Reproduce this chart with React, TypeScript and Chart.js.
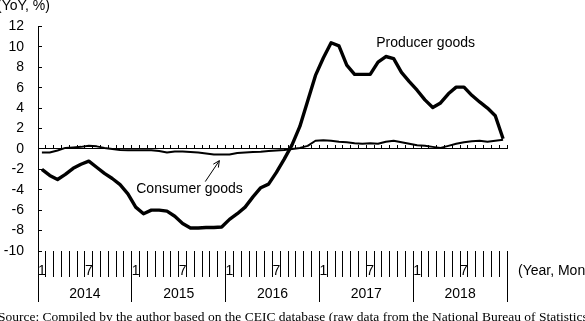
import React, { useEffect, useRef } from "react";
import { Chart, registerables } from "chart.js";

Chart.register(...registerables);

// Year groups shown under the month ticks
const years = ["2014", "2015", "2016", "2017", "2018"];
// Month tick labels inside each year (only January and July are labelled)
const monthTickLabels = ["1", "", "", "", "", "", "7", "", "", "", "", ""];

// Monthly categories, Jan 2014 – Dec 2018
const months: string[] = [];
years.forEach((yr) => monthTickLabels.forEach((_, m) => months.push(`${yr}-${m + 1}`)));

// PPI, producer goods (YoY, %)
const producerGoods = [
  -2.0, -2.6, -3.0, -2.5, -1.9, -1.5, -1.2, -1.8, -2.4, -2.9, -3.5, -4.4,
  -5.7, -6.35, -6.0, -6.0, -6.1, -6.6, -7.3, -7.75, -7.75, -7.7, -7.7, -7.65,
  -6.9, -6.35, -5.7, -4.7, -3.8, -3.45, -2.3, -1.0, 0.4, 2.2, 4.7, 7.2,
  8.9, 10.4, 10.1, 8.2, 7.3, 7.3, 7.3, 8.5, 9.05, 8.85, 7.5, 6.6,
  5.75, 4.8, 4.05, 4.5, 5.4, 6.05, 6.05, 5.25, 4.6, 4.0, 3.25, 1.0,
];

// PPI, consumer goods (YoY, %)
const consumerGoods = [
  -0.35, -0.35, -0.15, 0.1, 0.15, 0.2, 0.3, 0.25, 0.1, 0.0, -0.1, -0.12,
  -0.12, -0.12, -0.12, -0.2, -0.35, -0.25, -0.25, -0.3, -0.35, -0.45, -0.55, -0.55,
  -0.55, -0.4, -0.35, -0.3, -0.27, -0.2, -0.15, -0.1, 0.0, 0.1, 0.3, 0.8,
  0.85, 0.8, 0.7, 0.65, 0.55, 0.5, 0.55, 0.5, 0.7, 0.8, 0.65, 0.5,
  0.35, 0.3, 0.2, 0.1, 0.3, 0.5, 0.65, 0.75, 0.8, 0.7, 0.8, 0.9,
];

const SANS = '"Liberation Sans", Arial, sans-serif';
const SERIF = '"Liberation Serif", "Times New Roman", serif';

// Series name labels and the pointer arrow, placed in data coordinates
const seriesNotes = {
  id: "seriesNotes",
  afterDatasetsDraw(chart: any) {
    const { ctx } = chart;
    const x = chart.scales.x;
    const y = chart.scales.y;
    ctx.save();
    ctx.fillStyle = "#000";
    ctx.strokeStyle = "#000";
    ctx.font = `14px ${SANS}`;
    ctx.textBaseline = "middle";
    ctx.textAlign = "left";
    ctx.fillText("Producer goods", x.getPixelForValue(42.76), y.getPixelForValue(10.4));
    ctx.fillText("Consumer goods", x.getPixelForValue(12.07), y.getPixelForValue(-3.9));

    // arrow from the consumer label up to its line
    const x1 = x.getPixelForValue(20.9);
    const y1 = y.getPixelForValue(-3.2);
    const x2 = x.getPixelForValue(22.7);
    const y2 = y.getPixelForValue(-1.15);
    ctx.lineWidth = 1;
    ctx.beginPath();
    ctx.moveTo(x1, y1);
    ctx.lineTo(x2, y2);
    const ang = Math.atan2(y2 - y1, x2 - x1);
    const head = 7;
    ctx.moveTo(x2 - head * Math.cos(ang - 0.45), y2 - head * Math.sin(ang - 0.45));
    ctx.lineTo(x2, y2);
    ctx.lineTo(x2 - head * Math.cos(ang + 0.45), y2 - head * Math.sin(ang + 0.45));
    ctx.stroke();
    ctx.restore();
  },
};

export default function App() {
  const canvasRef = useRef<HTMLCanvasElement | null>(null);

  useEffect(() => {
    if (!canvasRef.current) return;
    const chart = new Chart(canvasRef.current, {
      type: "line",
      data: {
        labels: months,
        datasets: [
          {
            label: "Producer goods",
            data: producerGoods,
            borderColor: "#000",
            borderWidth: 3.4,
            pointRadius: 0,
            tension: 0,
            borderJoinStyle: "round",
            borderCapStyle: "butt",
          },
          {
            label: "Consumer goods",
            data: consumerGoods,
            borderColor: "#000",
            borderWidth: 2,
            pointRadius: 0,
            tension: 0,
            borderJoinStyle: "round",
          },
        ],
      },
      options: {
        responsive: false,
        animation: false,
        devicePixelRatio: 1,
        layout: { padding: { top: 21, right: 78, bottom: 19, left: 0 } },
        plugins: {
          legend: { display: false },
          tooltip: { enabled: false },
        },
        scales: {
          y: {
            min: -10,
            max: 12,
            position: "left",
            ticks: {
              stepSize: 2,
              color: "#000",
              font: { family: SANS, size: 14 },
              padding: 18,
            },
            grid: {
              drawOnChartArea: false,
              drawTicks: true,
              tickLength: -4,
              color: "#000",
            },
            border: { display: true, color: "#000", width: 1 },
            afterFit: (s: any) => {
              s.width = 38;
            },
          },
          // month row under the plot
          x: {
            type: "category",
            position: "bottom",
            offset: true,
            ticks: {
              autoSkip: false,
              maxRotation: 0,
              color: "#000",
              font: { family: SANS, size: 14 },
              padding: -14.4,
              callback: (_v: any, i: number) => monthTickLabels[i % 12],
            },
            grid: {
              offset: true,
              drawOnChartArea: false,
              drawTicks: true,
              tickLength: 26,
              color: "#000",
            },
            border: { display: false },
            afterFit: (s: any) => {
              s.height = 26;
            },
          },
          // year row
          xYear: {
            type: "category",
            labels: years,
            position: "bottom",
            offset: true,
            ticks: {
              autoSkip: false,
              maxRotation: 0,
              color: "#000",
              font: { family: SANS, size: 14 },
              padding: -16.4,
            },
            grid: {
              offset: true,
              drawOnChartArea: false,
              drawTicks: true,
              tickLength: 25,
              color: "#000",
            },
            border: { display: false },
            afterFit: (s: any) => {
              s.height = 25;
            },
          },
          // zero line with monthly tick marks
          xZero: {
            type: "category",
            labels: months,
            position: { y: 0 },
            offset: true,
            ticks: { display: false, autoSkip: false },
            grid: {
              offset: true,
              drawOnChartArea: false,
              drawTicks: true,
              tickLength: -4,
              color: "#000",
            },
            border: { display: true, color: "#000", width: 1 },
            afterFit: (s: any) => {
              s.height = 0;
            },
          },
        },
      },
      plugins: [seriesNotes],
    });
    return () => chart.destroy();
  }, []);

  return (
    <div
      style={{
        position: "fixed",
        left: 0,
        top: 0,
        width: 585,
        height: 321,
        overflow: "hidden",
        background: "#fff",
      }}
    >
      <canvas ref={canvasRef} width={585} height={321} style={{ display: "block" }} />
      <span
        style={{
          position: "absolute",
          left: -3,
          top: -3,
          font: `14px ${SANS}`,
          lineHeight: "16px",
          whiteSpace: "nowrap",
          color: "#000",
        }}
      >
        (YoY, %)
      </span>
      <span
        style={{
          position: "absolute",
          left: 518,
          top: 262,
          font: `14px ${SANS}`,
          lineHeight: "16px",
          whiteSpace: "nowrap",
          color: "#000",
        }}
      >
        (Year, Month)
      </span>
      <span
        style={{
          position: "absolute",
          left: -2,
          top: 309,
          font: `13.5px ${SERIF}`,
          lineHeight: "16px",
          whiteSpace: "nowrap",
          color: "#000",
        }}
      >
        Source: Compiled by the author based on the CEIC database (raw data from the National Bureau of Statistics).
      </span>
    </div>
  );
}
